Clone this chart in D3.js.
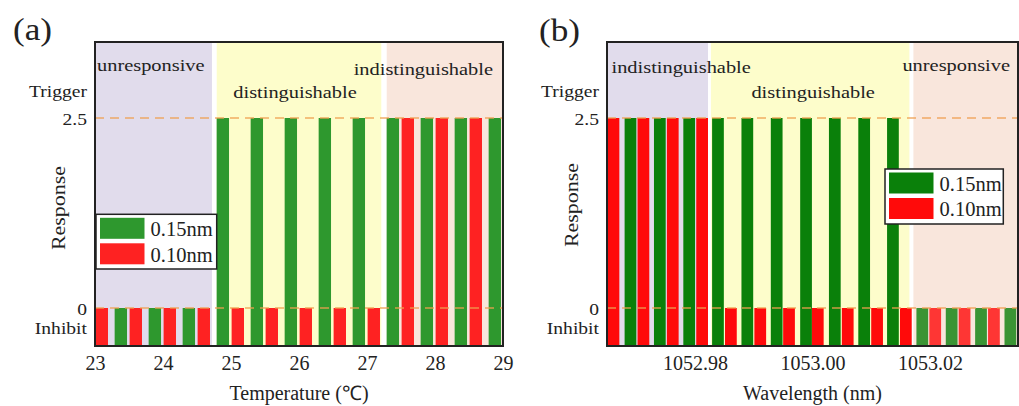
<!DOCTYPE html>
<html><head><meta charset="utf-8">
<script src="https://cdn.jsdelivr.net/npm/d3@7"></script>
<style>
body{margin:0;background:#fff;}
svg{display:block;}
text{font-family:"Liberation Serif","Times New Roman",serif;fill:#222;}
</style>
</head><body>
<svg id="c" width="1019" height="406"></svg>
<script>
// ---------- Data: panel (a) temperature ----------
const tempRed    = [23.1, 23.6, 24.1, 24.6, 25.1, 25.6, 26.1, 26.6, 27.1, 27.6, 28.1, 28.6];
const respRedA   = [0, 0, 0, 0, 0, 0, 0, 0, 0, 2.5, 2.5, 2.5];
const tempGreen  = [23.38, 23.88, 24.38, 24.88, 25.38, 25.88, 26.38, 26.88, 27.38, 27.88, 28.38, 28.88];
const respGreenA = [0, 0, 0, 2.5, 2.5, 2.5, 2.5, 2.5, 2.5, 2.5, 2.5, 2.5];
const regionNamesA = ["unresponsive", "distinguishable", "indistinguishable"];
const regionStartA = [23, 24.79, 27.29];
const regionEndA   = [24.72, 27.21, 29];
const xTicksA = [23, 24, 25, 26, 27, 28, 29];

// ---------- Data: panel (b) wavelength ----------
const wlRed      = [1052.9661, 1052.9712, 1052.9762, 1052.9812, 1052.9861, 1052.9911, 1052.9960,
                    1053.0009, 1053.0060, 1053.0110, 1053.0159, 1053.0209, 1053.0259, 1053.0309];
const respRedB   = [2.5, 2.5, 2.5, 2.5, 0, 0, 0, 0, 0, 0, 0, 0, 0, 0];
const wlGreen    = [1052.9690, 1052.9740, 1052.9790, 1052.9839, 1052.9889, 1052.9939, 1052.9989,
                    1053.0038, 1053.0088, 1053.0137, 1053.0187, 1053.0237, 1053.0287, 1053.0337];
const respGreenB = [2.5, 2.5, 2.5, 2.5, 2.5, 2.5, 2.5, 2.5, 2.5, 2.5, 0, 0, 0, 0];
const regionNamesB = ["indistinguishable", "distinguishable", "unresponsive"];
const regionStartB = [1052.965, 1052.9827, 1053.0172];
const regionEndB   = [1052.9822, 1053.0165, 1053.035];
const xTicksB = [1052.98, 1053.00, 1053.02];

// ---------- Shared ----------
const seriesNames = ["0.15nm", "0.10nm"];
const yTickValues = [0, 2.5];
const yTickLabels = ["0", "2.5"];
const yStateLabels = ["Inhibit", "Trigger"];
const yDomain = [-0.5, 3.5];

const svg = d3.select("#c");

function drawPanel(cfg) {
  const g = svg.append("g");
  const x = d3.scaleLinear().domain(cfg.xDomain).range([cfg.left, cfg.right]);
  const y = d3.scaleLinear().domain(yDomain).range([cfg.bottom, cfg.top]);
  const bw = x(cfg.xDomain[0] + cfg.barWidth) - x(cfg.xDomain[0]);

  // regions
  cfg.regionStart.forEach((s, i) => {
    g.append("rect").attr("x", x(s)).attr("y", cfg.top)
      .attr("width", x(cfg.regionEnd[i]) - x(s)).attr("height", cfg.bottom - cfg.top)
      .attr("fill", cfg.regionColors[i]);
  });

  // bars
  const bars = [];
  cfg.greenX.forEach((v, i) => bars.push({x: v, v: cfg.greenV[i], c: cfg.green}));
  cfg.redX.forEach((v, i) => bars.push({x: v, v: cfg.redV[i], c: cfg.red}));
  g.selectAll("rect.bar").data(bars).enter().append("rect").attr("class", "bar")
    .attr("x", d => x(d.x) - bw / 2).attr("width", bw)
    .attr("y", d => y(d.v)).attr("height", d => y(yDomain[0]) - y(d.v))
    .attr("fill", d => d.c);

  // overlay tint
  if (cfg.overlay != null) {
    const i = cfg.overlay;
    g.append("rect").attr("x", x(cfg.regionStart[i])).attr("y", cfg.top)
      .attr("width", x(cfg.regionEnd[i]) - x(cfg.regionStart[i])).attr("height", cfg.bottom - cfg.top)
      .attr("fill", cfg.regionColors[i]).attr("opacity", 0.2);
  }

  // dashed reference lines
  yTickValues.forEach(v => {
    g.append("line").attr("x1", cfg.left).attr("x2", cfg.right)
      .attr("y1", y(v)).attr("y2", y(v))
      .attr("stroke", "#f0a050").attr("stroke-width", 1.5)
      .attr("stroke-dasharray", "9,6").attr("opacity", 0.85);
  });

  // frame
  g.append("rect").attr("x", cfg.left).attr("y", cfg.top)
    .attr("width", cfg.right - cfg.left).attr("height", cfg.bottom - cfg.top)
    .attr("fill", "none").attr("stroke", "#222").attr("stroke-width", 2);

  // x axis
  const ax = g.append("g").attr("transform", `translate(0,${cfg.bottom})`)
    .call(d3.axisBottom(x).tickValues(cfg.xTicks).tickSize(0).tickPadding(10).tickFormat(cfg.xFormat));
  ax.select(".domain").remove();
  ax.selectAll("text").style("font-size", "20px").style("font-family", '"Liberation Serif",serif').attr("fill", "#222");

  // y labels
  const sx = 1.12;
  yTickValues.forEach((v, i) => {
    g.append("text").attr("text-anchor", "end").style("font-size", "17.5px")
      .attr("transform", `translate(${cfg.left - 8},${y(v) + 6.5}) scale(${sx},1)`).text(yTickLabels[i]);
    const off = v > 0 ? -21 : 26;
    g.append("text").attr("text-anchor", "end").style("font-size", "17.5px")
      .attr("transform", `translate(${cfg.left - 8},${y(v) + off}) scale(${sx},1)`).text(yStateLabels[i]);
  });
  g.append("text").attr("text-anchor", "middle").style("font-size", "18px")
    .attr("transform", `translate(${cfg.yTitleX},${cfg.yTitleY}) rotate(-90) scale(1.22,1)`).text("Response");

  // x title
  g.append("text").attr("text-anchor", "middle").style("font-size", "20px")
    .attr("x", (cfg.left + cfg.right) / 2).attr("y", 400).text(cfg.xTitle);

  // region labels
  cfg.regionNames.forEach((n, i) => {
    const L = cfg.labelPos[i];
    let px;
    if (L.anchor === "start") px = x(cfg.regionStart[i]) + L.dx;
    else if (L.anchor === "end") px = x(cfg.regionEnd[i]) + L.dx;
    else px = (x(cfg.regionStart[i]) + x(cfg.regionEnd[i])) / 2 + L.dx;
    g.append("text").attr("text-anchor", L.anchor).style("font-size", "17px")
      .attr("transform", `translate(${px},${L.y}) scale(1.2,1)`).text(n);
  });

  // panel title
  g.append("text").style("font-size", "32px")
    .attr("transform", `translate(${cfg.titleX},${cfg.titleY}) scale(1.1,1)`).text(cfg.title);

  // legend
  const L = cfg.legend;
  g.append("rect").attr("x", L.x).attr("y", L.y).attr("width", L.w).attr("height", L.h)
    .attr("fill", "#fff").attr("stroke", "#222").attr("stroke-width", 1.5);
  [cfg.green, cfg.red].forEach((c, i) => {
    g.append("rect").attr("x", L.x + 4).attr("y", L.y + 3.5 + i * 25.5)
      .attr("width", 44.5).attr("height", 21).attr("fill", c);
    g.append("text").style("font-size", "20.5px")
      .attr("x", L.x + 54.5).attr("y", L.y + 21.7 + i * 25.7).text(seriesNames[i]);
  });
}

drawPanel({
  left: 95, right: 503, top: 42, bottom: 346,
  xDomain: [23, 29], xTicks: xTicksA, xFormat: d3.format("d"), barWidth: 0.182,
  greenX: tempGreen, greenV: respGreenA, redX: tempRed, redV: respRedA,
  green: "#2e982e", red: "#fe2222",
  regionStart: regionStartA, regionEnd: regionEndA, regionNames: regionNamesA,
  regionColors: ["#e1dcec", "#fdfdcb", "#f9e6dc"],
  labelPos: [{anchor: "start", dx: 2, y: 70.5}, {anchor: "middle", dx: -4, y: 98}, {anchor: "end", dx: -10, y: 74.5}],
  overlay: null,
  xTitle: "Temperature (\u2103)", yTitleX: 65, yTitleY: 208,
  title: "(a)", titleX: 13, titleY: 39.5,
  legend: {x: 96, y: 214.3, w: 120.7, h: 54.7}
});

drawPanel({
  left: 607, right: 1018, top: 42, bottom: 346,
  xDomain: [1052.965, 1053.035], xTicks: xTicksB, xFormat: d3.format(".2f"), barWidth: 0.002,
  greenX: wlGreen, greenV: respGreenB, redX: wlRed, redV: respRedB,
  green: "#0a800a", red: "#ff0a0a",
  regionStart: regionStartB, regionEnd: regionEndB, regionNames: regionNamesB,
  regionColors: ["#e1dcec", "#fdfdcb", "#f9e6dc"],
  labelPos: [{anchor: "start", dx: 4.5, y: 73}, {anchor: "middle", dx: 3, y: 98}, {anchor: "end", dx: -8, y: 70.5}],
  overlay: 2,
  xTitle: "Wavelength (nm)", yTitleX: 578, yTitleY: 205,
  title: "(b)", titleX: 539, titleY: 41,
  legend: {x: 885, y: 169, w: 118.3, h: 55}
});
</script>
</body></html>
